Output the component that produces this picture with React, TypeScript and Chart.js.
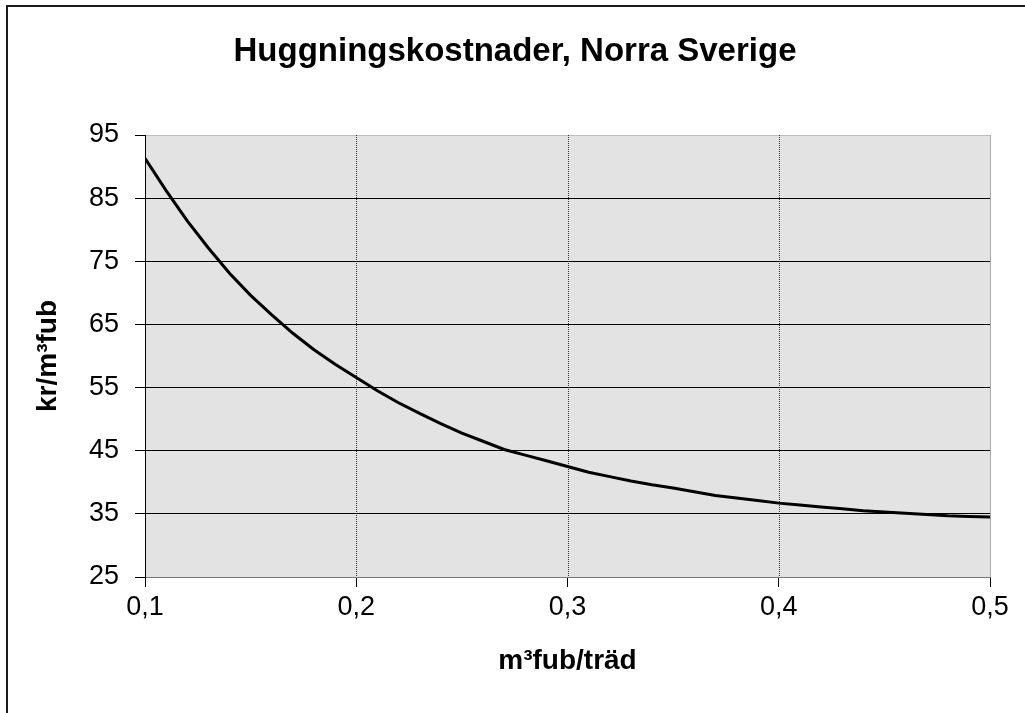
import React, { useEffect, useRef } from "react";
import { Chart, registerables } from "chart.js";

Chart.register(...registerables);

const chartTitle = "Huggningskostnader, Norra Sverige";
const xAxisTitle = "m³fub/träd";
const yAxisTitle = "kr/m³fub";

const xValues = [
  0.1, 0.11, 0.12, 0.13, 0.14, 0.15, 0.16, 0.17, 0.18, 0.19,
  0.2, 0.21, 0.22, 0.23, 0.24, 0.25, 0.26, 0.27, 0.28, 0.29,
  0.3, 0.31, 0.32, 0.33, 0.34, 0.35, 0.36, 0.37, 0.38, 0.39,
  0.4, 0.41, 0.42, 0.43, 0.44, 0.45, 0.46, 0.47, 0.48, 0.49, 0.5,
];
const costValues = [
  91.3, 86.2, 81.4, 77.1, 73.1, 69.6, 66.5, 63.6, 61.0, 58.7,
  56.6, 54.5, 52.6, 50.9, 49.3, 47.8, 46.5, 45.2, 44.3, 43.4,
  42.5, 41.6, 40.9, 40.2, 39.6, 39.1, 38.5, 37.9, 37.5, 37.1,
  36.7, 36.4, 36.1, 35.8, 35.5, 35.3, 35.1, 34.9, 34.7, 34.6, 34.5,
];
const xTickValues = [0.1, 0.2, 0.3, 0.4, 0.5];
const xTickLabels = ["0,1", "0,2", "0,3", "0,4", "0,5"];
const yTickValues = [25, 35, 45, 55, 65, 75, 85, 95];

const FONT = "'Liberation Sans', Arial, sans-serif";

const decorPlugin = {
  id: "decor",
  afterLayout(chart: any) {
    // center the title over the whole framed figure, not the padded area
    if (chart.titleBlock) {
      chart.titleBlock.left = 40;
    }
  },
  beforeDraw(chart: any) {
    const { ctx, chartArea } = chart;
    ctx.save();
    // outer frame (top and left edges visible)
    ctx.strokeStyle = "#1a1a1a";
    ctx.lineWidth = 2;
    ctx.beginPath();
    ctx.moveTo(7, 2000);
    ctx.lineTo(7, 6);
    ctx.lineTo(2000, 6);
    ctx.stroke();
    // plot background
    ctx.fillStyle = "#e3e3e3";
    ctx.fillRect(
      chartArea.left,
      chartArea.top,
      chartArea.right - chartArea.left,
      chartArea.bottom - chartArea.top
    );
    ctx.restore();
  },
  beforeDatasetsDraw(chart: any) {
    const { ctx, chartArea, scales } = chart;
    const xs = scales.x;
    ctx.save();
    ctx.strokeStyle = "#333";
    ctx.lineWidth = 1;
    ctx.setLineDash([1, 1]);
    xTickValues.slice(1, -1).forEach((v) => {
      const px = Math.round(xs.getPixelForValue(v)) + 0.5;
      ctx.beginPath();
      ctx.moveTo(px, chartArea.top);
      ctx.lineTo(px, chartArea.bottom);
      ctx.stroke();
    });
    ctx.setLineDash([]);
    ctx.strokeStyle = "#a8a8a8";
    const rx = Math.round(chartArea.right) + 0.5;
    ctx.beginPath();
    ctx.moveTo(rx, chartArea.top);
    ctx.lineTo(rx, chartArea.bottom);
    ctx.stroke();
    ctx.restore();
  },
};

export default function App() {
  const canvasRef = useRef<HTMLCanvasElement | null>(null);

  useEffect(() => {
    const canvas = canvasRef.current;
    if (!canvas) return;
    Chart.defaults.color = "#000";
    Chart.defaults.font.family = FONT;
    const chart = new Chart(canvas, {
      type: "line",
      data: {
        datasets: [
          {
            data: xValues.map((x, i) => ({ x, y: costValues[i] })),
            borderColor: "#000",
            borderWidth: 3,
            pointRadius: 0,
            tension: 0,
            fill: false,
          },
        ],
      },
      options: {
        animation: false,
        responsive: false,
        maintainAspectRatio: false,
        layout: { padding: { left: 0, right: 35, top: 0, bottom: 0 } },
        plugins: {
          legend: { display: false },
          tooltip: { enabled: false },
          title: {
            display: true,
            text: chartTitle,
            color: "#000",
            font: { family: FONT, size: 33, weight: "bold", lineHeight: 1.2 },
            padding: { top: 32, bottom: 63.4 },
          },
        },
        scales: {
          x: {
            type: "linear",
            min: 0.1,
            max: 0.5,
            afterBuildTicks: (scale: any) => {
              scale.ticks = xTickValues.map((v) => ({ value: v }));
            },
            afterFit: (scale: any) => {
              scale.height = 136;
              scale.paddingLeft = 0;
              scale.paddingRight = 0;
            },
            ticks: {
              font: { family: FONT, size: 27 },
              color: "#000",
              padding: 4,
              maxRotation: 0,
              autoSkip: false,
              callback: (value: any) => {
                const i = xTickValues.findIndex((v) => Math.abs(v - value) < 1e-9);
                return i >= 0 ? xTickLabels[i] : "";
              },
            },
            grid: {
              drawOnChartArea: false,
              drawTicks: true,
              tickLength: 10,
              tickColor: "#000",
              color: "#000",
            },
            border: { display: true, color: "#7a7a7a", width: 1 },
            title: {
              display: true,
              text: xAxisTitle,
              color: "#000",
              font: { family: FONT, size: 28, weight: "bold", lineHeight: 1.2 },
              padding: { top: 0, bottom: 35 },
            },
          },
          y: {
            type: "linear",
            min: 25,
            max: 95,
            afterBuildTicks: (scale: any) => {
              scale.ticks = yTickValues.map((v) => ({ value: v }));
            },
            afterFit: (scale: any) => {
              scale.width = 145;
            },
            ticks: {
              font: { family: FONT, size: 27 },
              color: "#000",
              padding: 16,
              autoSkip: false,
            },
            grid: {
              drawTicks: true,
              tickLength: 10,
              tickColor: "#000",
              color: (ctx: any) => {
                const v = ctx.tick ? ctx.tick.value : null;
                if (v === 95) return "#bdbdbd";
                if (v === 25) return "rgba(0,0,0,0)";
                return "#000";
              },
            },
            border: { display: true, color: "#000", width: 1 },
            title: {
              display: true,
              text: yAxisTitle,
              color: "#000",
              font: { family: FONT, size: 28, weight: "bold", lineHeight: 1.2 },
              padding: { top: 31, bottom: 0 },
            },
          },
        },
      },
      plugins: [decorPlugin],
    });
    return () => chart.destroy();
  }, []);

  return (
    <div
      style={{
        position: "fixed",
        left: 0,
        top: 0,
        width: 1025,
        height: 713,
        overflow: "hidden",
        background: "#fff",
      }}
    >
      <canvas ref={canvasRef} width={1025} height={713} style={{ display: "block" }} />
    </div>
  );
}
